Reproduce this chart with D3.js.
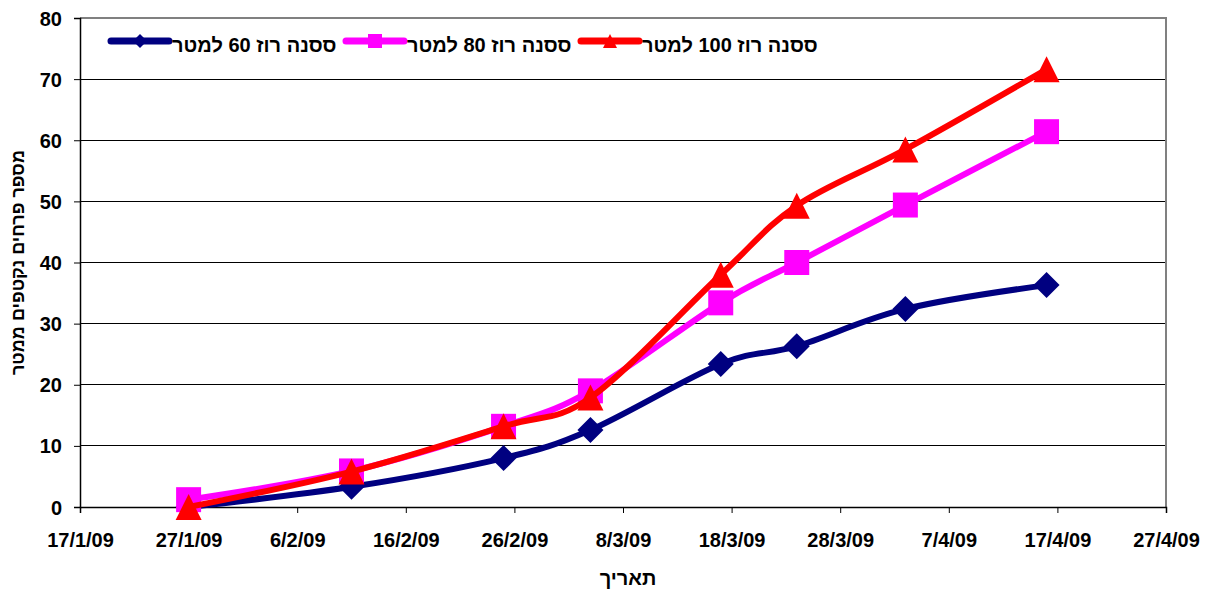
<!DOCTYPE html>
<html><head><meta charset="utf-8">
<script src="https://cdn.jsdelivr.net/npm/d3@7"></script>
<style>body{margin:0;background:#fff}svg{display:block}text{font-family:"Liberation Sans",Arial,sans-serif;font-weight:bold}</style>
</head><body><svg id="c" width="1209" height="592"></svg>
<script>
const dates = ["27/1/09","11/2/09","25/2/09","5/3/09","17/3/09","24/3/09","3/4/09","16/4/09"];
const series60 = [0, 3.3, 8.0, 12.6, 23.4, 26.3, 32.4, 36.3];
const series80 = [1.2, 5.9, 13.2, 19.0, 33.4, 40.0, 49.4, 61.4];
const series100 = [0, 5.8, 13.2, 17.9, 38.0, 49.3, 58.5, 71.6];
const seriesNames = ["ססנה רוז 60 למטר","ססנה רוז 80 למטר","ססנה רוז 100 למטר"];
const xTicks = ["17/1/09","27/1/09","6/2/09","16/2/09","26/2/09","8/3/09","18/3/09","28/3/09","7/4/09","17/4/09","27/4/09"];
const yTicks = [0,10,20,30,40,50,60,70,80];
const yTitle = "מספר פרחים נקטפים ממטר";
const xTitle = "תאריך";

const parse = d3.timeParse("%d/%m/%y");
const svg = d3.select("#c");
const L = 80, R = 1166, T = 18, B = 507;
const x = d3.scaleTime().domain([parse(xTicks[0]), parse(xTicks[xTicks.length-1])]).range([L, R]);
const y = d3.scaleLinear().domain([0, 80]).range([B, T]);

// gridlines
svg.append("g").selectAll("line").data(yTicks.slice(1, -1)).join("line")
  .attr("x1", L).attr("x2", R).attr("y1", d => y(d)).attr("y2", d => y(d))
  .attr("stroke", "#000").attr("stroke-width", 1).attr("shape-rendering","crispEdges");
// plot border top/right
svg.append("path").attr("d", `M${L},${T}H${R}V${B}`).attr("fill","none").attr("stroke","#808080").attr("stroke-width",1.5).attr("shape-rendering","crispEdges");

// axes
const xa = svg.append("g").attr("transform", `translate(0,${B})`)
  .call(d3.axisBottom(x).tickValues(xTicks.map(parse)).tickFormat((d,i)=>xTicks[i]).tickSize(6).tickPadding(20));
const ya = svg.append("g").attr("transform", `translate(${L},0)`)
  .call(d3.axisLeft(y).tickValues(yTicks).tickSize(6).tickPadding(12));
[xa, ya].forEach(g => {
  g.select(".domain").attr("stroke","#000").attr("stroke-width",1.5);
  g.selectAll(".tick line").attr("stroke","#000").attr("stroke-width",1);
  g.selectAll("text").attr("font-size", 20).attr("fill","#000").style("font-family","Liberation Sans, Arial, sans-serif").style("font-weight","bold");
});
ya.selectAll("text").attr("dy","0.35em");

// titles
svg.append("text").attr("x", 628).attr("y", 585).attr("text-anchor","middle").attr("font-size",20).text(xTitle);
svg.append("text").attr("transform", `translate(24,${(T+B)/2}) rotate(-90)`).attr("text-anchor","middle").attr("font-size",18).text(yTitle);

// markers
const markers = {
  diamond: s => `M0,${-s/2}L${s/2},0L0,${s/2}L${-s/2},0Z`,
  square: s => `M${-s/2},${-s/2}h${s}v${s}h${-s}Z`,
  triangle: s => `M0,${-s/2}L${s/2},${s/2}L${-s/2},${s/2}Z`
};
const defs = [
  {vals: series60, color: "#000080", m: "diamond", size: 26},
  {vals: series80, color: "#FF00FF", m: "square", size: 25},
  {vals: series100, color: "#FF0000", m: "triangle", size: 26}
];
const line = d3.line().x(d => x(d[0])).y(d => y(d[1])).curve(d3.curveCatmullRom.alpha(0));
defs.forEach(s => {
  const pts = dates.map((d,i) => [parse(d), s.vals[i]]);
  svg.append("path").attr("d", line(pts)).attr("fill","none").attr("stroke", s.color).attr("stroke-width", 6).attr("stroke-linejoin","round").attr("stroke-linecap","round");
  svg.append("g").selectAll("path").data(pts).join("path")
    .attr("transform", d => `translate(${x(d[0])},${y(d[1])})`)
    .attr("d", markers[s.m](s.size)).attr("fill", s.color);
});

// legend
const legX = [111, 346, 581];
defs.forEach((s,i) => {
  const g = svg.append("g").attr("transform", `translate(${legX[i]},41)`);
  g.append("line").attr("x1",0).attr("x2",58).attr("stroke", s.color).attr("stroke-width",7).attr("stroke-linecap","round");
  g.append("path").attr("transform","translate(29,0)").attr("d", markers[s.m](14)).attr("fill", s.color);
  g.append("text").attr("x", 61).attr("y", 11).attr("font-size",20).text(seriesNames[i]);
});
</script></body></html>
